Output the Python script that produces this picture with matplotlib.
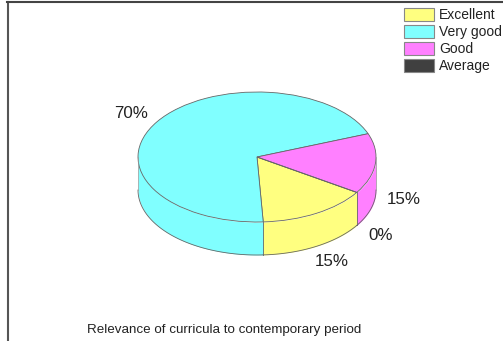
import numpy as np
import matplotlib.pyplot as plt
from matplotlib.patches import Patch

plt.rcParams['font.family'] = ['Liberation Sans', 'DejaVu Sans']

labels = ['Excellent', 'Very good', 'Good', 'Average']
values = [15, 70, 15, 0]
colors = ['#ffff80', '#80ffff', '#ff80ff', '#404040']
pct_labels = ['15%', '70%', '15%', '0%']
title = 'Relevance of curricula to contemporary period'

W, H = 503, 341
cx, cy = 257, 157   # pie centre in pixels
rx, ry = 119, 65    # ellipse radii in pixels
depth = 33 / ry     # height of the side wall
start = -33
edge = '#666666'

fig = plt.figure(figsize=(W / 100, H / 100), dpi=100, facecolor='white')
ax = fig.add_axes([0, 0, 1, 1])

# side wall first, only the front half (-180..0) can be seen
angle = start
for v, c in zip(values, colors):
    a2 = angle
    a1 = angle - v * 3.6
    angle = a1
    for off in [0, 360]:
        lo = max(a1 + off, -180)
        hi = min(a2 + off, 0)
        if hi <= lo:
            continue
        t = np.radians(np.linspace(lo, hi, 80))
        x = np.cos(t)
        y = np.sin(t)
        ax.fill_between(x, y - depth, y, color=c, lw=0, zorder=1)
        ax.plot(x, y - depth, color=edge, lw=0.6, zorder=2)

wedges, _ = ax.pie(values, colors=colors, startangle=start, counterclock=False, radius=1,
                   wedgeprops={'edgecolor': edge, 'linewidth': 0.6, 'zorder': 3})

# vertical edges of the wall
for a in [start, start - values[0] * 3.6]:
    px = np.cos(np.radians(a))
    py = np.sin(np.radians(a))
    ax.plot([px, px], [py, py - depth], color=edge, lw=0.6, zorder=4)
for a in [-180, 0]:
    px = np.cos(np.radians(a))
    ax.plot([px, px], [0, -depth], color='#999999', lw=0.5, zorder=4)

ax.set_aspect('auto')
ax.set_xlim(-cx / rx, (W - cx) / rx)
ax.set_ylim(-(H - cy) / ry, cy / ry)
ax.axis('off')

# frame of the original picture, top and left only
fig.add_artist(plt.Line2D([7.5 / W, 7.5 / W], [0, 1 - 2 / H], color='#555555', lw=1.5))
fig.add_artist(plt.Line2D([7 / W, 1], [1 - 2 / H, 1 - 2 / H], color='#444444', lw=1.5))

# percent labels
pos = [(332, 262), (131, 114), (404, 200), (380.5, 235)]
for s, (px, py) in zip(pct_labels, pos):
    fig.text(px / W, 1 - py / H, s, fontsize=12.2, ha='center', va='center', color='#222222')

fig.text(224.5 / W, 1 - 330 / H, title, fontsize=9.65, ha='center', va='center', color='#222222')

handles = [Patch(facecolor=c, edgecolor='#888888', linewidth=0.8) for c in colors]
fig.legend(handles, labels, loc='upper left', bbox_to_anchor=(401 / W, 1 - 5.5 / H), frameon=False,
           fontsize=10, handlelength=2.15, handleheight=1.05, handletextpad=0.4,
           labelspacing=0.2, borderpad=0.2, borderaxespad=0, labelcolor='#222222')

fig.savefig('out.png', dpi=100)
